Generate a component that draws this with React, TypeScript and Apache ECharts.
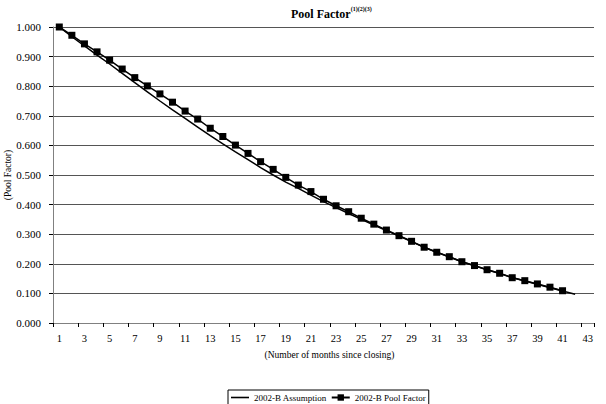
import React, { useEffect, useRef } from "react";
import * as echarts from "echarts";

const months: string[] = Array.from({ length: 43 }, (_, i) => String(i + 1));

const assumption: number[] = [
  1.0, 0.967, 0.936, 0.905, 0.875, 0.843, 0.812, 0.781, 0.75, 0.72, 0.691,
  0.662, 0.633, 0.605, 0.578, 0.552, 0.525, 0.5, 0.476, 0.455, 0.432, 0.41,
  0.39, 0.37, 0.35, 0.331, 0.312, 0.294, 0.275, 0.256, 0.239, 0.223, 0.207,
  0.193, 0.18, 0.167, 0.154, 0.142, 0.131, 0.119, 0.108, 0.097,
];

const poolFactor: number[] = [
  1.0, 0.972, 0.943, 0.916, 0.888, 0.858, 0.829, 0.801, 0.774, 0.746, 0.716,
  0.689, 0.658, 0.63, 0.601, 0.573, 0.545, 0.519, 0.492, 0.466, 0.444, 0.418,
  0.396, 0.376, 0.354, 0.334, 0.314, 0.295, 0.276, 0.256, 0.239, 0.224, 0.207,
  0.194, 0.18, 0.168, 0.153, 0.143, 0.132, 0.121, 0.109,
];

const FONT = "'Liberation Serif', 'Times New Roman', serif";

export default function App() {
  const ref = useRef<HTMLDivElement>(null);
  useEffect(() => {
    if (!ref.current) return;
    const chart = echarts.init(ref.current, undefined, { renderer: "svg" });
    chart.setOption({
      animation: false,
      backgroundColor: "#ffffff",
      textStyle: { fontFamily: FONT, color: "#000" },
      title: {
        text: "{b|Pool Factor}{s|(1)(2)(3)}",
        left: 286,
        top: 1,
        textStyle: {
          rich: {
            b: { fontFamily: FONT, fontSize: 12, fontWeight: "bold", color: "#000", lineHeight: 16 },
            s: { fontFamily: FONT, fontSize: 6, color: "#000", verticalAlign: "top", lineHeight: 16, padding: [0, 0, 6, 0] },
          },
        },
      },
      legend: {
        bottom: -1,
        left: 228,
        itemWidth: 18,
        itemHeight: 8,
        itemGap: 4,
        padding: [3, 3, 3, 3],
        borderColor: "#000",
        borderWidth: 1,
        textStyle: { fontFamily: FONT, fontSize: 9, color: "#000" },
        data: [
          { name: "2002-B Assumption", icon: "path://M0,0 M18,8 M0,3.2 L18,3.2 L18,4.8 L0,4.8 Z" },
          { name: "2002-B Pool Factor" },
        ],
      },
      grid: { left: 53, right: 12, top: 27, bottom: 81, containLabel: false, outerBoundsMode: "none" },
      xAxis: {
        type: "category",
        data: months,
        boundaryGap: true,
        name: "(Number of months since closing)",
        nameLocation: "middle",
        nameGap: 27,
        nameTextStyle: { fontFamily: FONT, fontSize: 9.5, color: "#000", padding: [0, 0, 0, 12] },
        axisLine: { lineStyle: { color: "#808080", width: 1 } },
        axisTick: { show: true, length: 4, lineStyle: { color: "#000" } },
        axisLabel: { interval: 1, fontFamily: FONT, fontSize: 10.5, color: "#000", margin: 10 },
        splitLine: { show: false },
      },
      yAxis: {
        type: "value",
        min: 0,
        max: 1,
        interval: 0.1,
        name: "(Pool Factor)",
        nameLocation: "middle",
        nameGap: 40,
        nameMoveOverlap: false,
        nameRotate: 90,
        nameTextStyle: { fontFamily: FONT, fontSize: 9.5, color: "#000" },
        axisLine: { show: true, lineStyle: { color: "#808080", width: 1 } },
        axisTick: { show: true, length: 4, inside: false, lineStyle: { color: "#000" } },
        axisLabel: {
          fontFamily: FONT,
          fontSize: 11,
          color: "#000",
          margin: 12,
          formatter: (v: number) => v.toFixed(3),
        },
        splitLine: { show: true, lineStyle: { color: "#555", width: 1 } },
      },
      series: [
        {
          name: "2002-B Assumption",
          type: "line",
          data: assumption,
          symbol: "none",
          lineStyle: { color: "#000", width: 1.5 },
          itemStyle: { color: "#000" },
          z: 2,
        },
        {
          name: "2002-B Pool Factor",
          type: "line",
          data: poolFactor,
          symbol: "rect",
          symbolSize: 7,
          lineStyle: { color: "#000", width: 1.5 },
          itemStyle: { color: "#000" },
          z: 3,
        },
      ],
    });
    return () => chart.dispose();
  }, []);
  return (
    <div
      ref={ref}
      style={{ position: "fixed", left: 0, top: 0, width: 606, height: 404 }}
    />
  );
}
